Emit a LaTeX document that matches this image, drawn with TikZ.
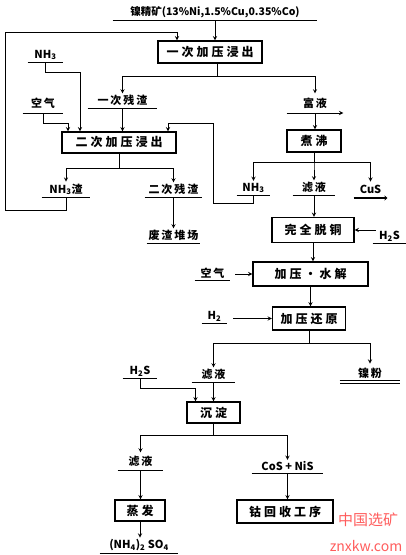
\documentclass[tikz,border=0pt]{standalone}
\usepackage{fontspec}
\setmainfont{Noto Sans CJK SC}
\newfontfamily\boxfont{Noto Sans CJK SC}[LetterSpace=25]
\newfontfamily\lblfont{Noto Sans CJK SC}[LetterSpace=18]
\usepackage{tikz}
\usetikzlibrary{arrows,arrows.meta,positioning,calc}
\usepackage{xcolor}

\begin{document}
\begin{tikzpicture}[x=1pt,y=-1pt,>=stealth,line width=0.9pt,
    box/.style={draw, line width=1.3pt, minimum height=22pt, inner sep=2pt,
        font=\boxfont\bfseries\fontsize{12}{14}\selectfont},
    feed/.style={anchor=south, inner sep=1.5pt, font=\lblfont\bfseries\fontsize{11}{13}\selectfont,
        append after command={(\tikzlastnode.south west) edge[line width=1pt] (\tikzlastnode.south east)}},
    thinfeed/.style={anchor=south, inner sep=1.5pt, font=\lblfont\bfseries\fontsize{11}{13}\selectfont,
        append after command={(\tikzlastnode.south west) edge[line width=0.5pt] (\tikzlastnode.south east)}},
    arrowfeed/.style={anchor=south, inner sep=1.5pt, font=\lblfont\bfseries\fontsize{11}{13}\selectfont,
        append after command={(\tikzlastnode.south west) edge[line width=1pt,->] (\tikzlastnode.south east)}},
    product/.style={anchor=south, inner sep=3.5pt, font=\lblfont\bfseries\fontsize{11}{13}\selectfont},
    chem/.style={font=\bfseries\fontsize{11}{13}\selectfont},
    dbl/.style={double, line width=1.1pt, double distance=1.6pt},
    bar/.style={line width=2.6pt, -{Stealth[length=3pt,width=5pt]}},
    wmark/.style={text=red!75, opacity=0.85}]
    \useasboundingbox (0,0) rectangle (406,555);

    % ore and first leach
    \node[feed, minimum width=204pt, font=\bfseries\fontsize{10.5}{12}\selectfont] (ore) at (215,20) {镍精矿(13\%Ni,1.5\%Cu,0.35\%Co)};
    \node[box, minimum width=104pt] (leach1) at (210,52) {一次加压浸出};
    \draw[->] (ore.south) -- (ore.south |- leach1.north);

    \node[feed, minimum width=69pt] (res1) at (122.5,108) {一次残渣};
    \node[arrowfeed, minimum width=56pt, inner ysep=4pt] (rich) at (315,113) {富液};
    \draw[->] ([xshift=7pt]leach1.south) -- ++(0,13) -| (res1.north);
    \draw[->] ([xshift=7pt]leach1.south) -- ++(0,13) -| (rich.north);

    % second leach
    \node[feed, chem, minimum width=35pt] (nh3a) at (45.5,62) {NH\textsubscript{3}};
    \node[feed, minimum width=40pt, inner ysep=4pt] (air1) at (43,113) {空气};
    \node[box, minimum width=114pt, minimum height=21pt] (leach2) at (119,142.5) {二次加压浸出};
    \draw[->] (nh3a.south) -- ++(0,10) -| ([xshift=-39pt]leach2.north);
    \draw[->] (air1.south) -- ++(0,10) -| ([xshift=-51pt]leach2.north);
    \draw[->] (res1.south) -- (res1.south |- leach2.north);

    \node[feed, minimum width=48pt] (nh3res) at (66,197) {{\rmfamily\bfseries NH\textsubscript{3}}渣};
    \node[feed, minimum width=57pt] (res2) at (173.5,197) {二次残渣};
    \node[thinfeed, minimum width=43pt] (dump) at (173.5,243) {废渣堆场};
    \draw[->] (leach2.south) -- ++(0,15) -| (nh3res.north);
    \draw[->] (leach2.south) -- ++(0,15) -| (res2.north);
    \draw[->] (res2.south) -- (res2.south |- dump.north);
    % NH3 slag back to first leach
    \draw[->] (nh3res.south) -- ++(0,13) -| (5,32) -| ([xshift=-33pt]leach1.north);

    % boiling
    \node[box, minimum width=54pt] (boil) at (314,141) {煮沸};
    \draw[->] (rich.south) -- (rich.south |- boil.north);
    \node[feed, chem, minimum width=33pt] (nh3b) at (253.5,195) {NH\textsubscript{3}};
    \node[feed, minimum width=42pt] (filt1) at (314,195) {滤液};
    \node[product, chem, minimum width=33pt] (cus) at (370.5,198) {CuS};
    \draw[bar] (cus.south west) -- (cus.south east);
    \draw[->] (boil.south) -- ++(0,10) -| (nh3b.north);
    \draw[->] (boil.south) -- ++(0,10) -| (filt1.north);
    \draw[->] (boil.south) -- ++(0,10) -| (cus.north);
    % NH3 back to second leach
    \draw[->] (nh3b.south) -- ++(0,8) -| (213,123) -| ([xshift=49pt]leach2.north);

    % copper removal, hydrolysis, reduction
    \node[box, minimum width=82pt, minimum height=25pt] (cu) at (313,230) {完全脱铜};
    \node[feed, chem, minimum width=33pt] (h2sa) at (389.5,243) {H\textsubscript{2}S};
    \draw[->] (filt1.south) -- (filt1.south |- cu.north);
    \draw[->, shorten <=-3pt] (cu.east -| h2sa.west) -- (cu.east);

    \node[box, minimum width=115pt, minimum height=24pt] (hyd) at (310.5,274) {加压·水解};
    \node[feed, minimum width=35pt] (air2) at (212.5,280) {空气};
    \draw[->] (cu.south) -- (cu.south |- hyd.north);
    \draw[->, shorten <=5pt] (hyd.west -| air2.east) -- (hyd.west);

    \node[box, minimum width=73pt, minimum height=23pt] (red) at (309,318.5) {加压还原};
    \node[feed, chem, minimum width=25pt] (h2) at (214.5,323) {H\textsubscript{2}};
    \draw[->] (hyd.south) -- (hyd.south |- red.north);
    \draw[->, shorten <=6pt] (red.west -| h2.east) -- (red.west);

    \node[feed, minimum width=43pt] (filt2) at (213.5,382) {滤液};
    \node[product, minimum width=60pt] (nipow) at (370,382) {镍粉};
    \draw[dbl] (nipow.south west) -- (nipow.south east);
    \draw[->] (red.south) -- ++(0,13) -| (filt2.north);
    \draw[->] (red.south) -- ++(0,13) -| (nipow.north);

    % precipitation
    \node[feed, chem, minimum width=34pt] (h2sb) at (140,378) {H\textsubscript{2}S};
    \node[box, minimum width=53pt, minimum height=21pt] (prec) at (213.5,412.5) {沉淀};
    \draw[->] (h2sb.south) -- ++(0,10) -| ([xshift=-18pt]prec.north);
    \draw[->] (filt2.south) -- (filt2.south |- prec.north);

    \node[feed, minimum width=45pt, inner ysep=3pt] (filt3) at (140.5,470) {滤液};
    \node[feed, chem, minimum width=71pt] (cosnis) at (287.5,473) {CoS + NiS};
    \draw[->] (prec.south) -- ++(0,12) -| (filt3.north);
    \draw[->] (prec.south) -- ++(0,12) -| (cosnis.north);

    \node[box, minimum width=50pt, minimum height=21pt] (evap) at (140,510.5) {蒸发};
    \node[box, minimum width=96pt, minimum height=23pt] (cobalt) at (285,511.5) {钴回收工序};
    \draw[->] (filt3.south) -- (filt3.south |- evap.north);
    \draw[->] (cosnis.south) -- (cosnis.south |- cobalt.north);

    \node[feed, chem, minimum width=78pt] (amsul) at (139,553) {(NH\textsubscript{4})\textsubscript{2} SO\textsubscript{4}};
    \draw[->] (evap.south) -- (evap.south |- amsul.north);

    % watermark
    \node[wmark, font=\fontsize{15}{15}\selectfont] (wm1) at (368,520) {中国选矿};
    \node[wmark, font=\fontsize{14}{14}\selectfont] (wm2) at (366,546) {znxkw.com};
\end{tikzpicture}
\end{document}
